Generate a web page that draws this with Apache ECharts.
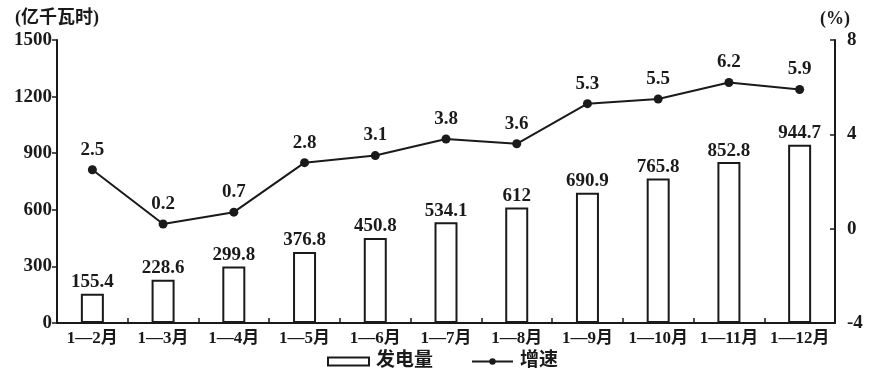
<!DOCTYPE html>
<html><head><meta charset="utf-8">
<script src="https://cdn.jsdelivr.net/npm/echarts@6/dist/echarts.min.js"></script>
<style>html,body{margin:0;padding:0;background:#fff}#c{width:870px;height:379px}</style>
</head><body><div id="c"></div>
<script>
const categories = ['1—2月','1—3月','1—4月','1—5月','1—6月','1—7月','1—8月','1—9月','1—10月','1—11月','1—12月'];
const generation = [155.4,228.6,299.8,376.8,450.8,534.1,612,690.9,765.8,852.8,944.7];
const growth = [2.5,0.2,0.7,2.8,3.1,3.8,3.6,5.3,5.5,6.2,5.9];
const leftTicks = [0,300,600,900,1200,1500];
const rightTicks = [-4,0,4,8];

const FONT = '"Liberation Serif","Noto Sans CJK SC",serif';
const C = '#1a1a1a';
const FS = 19;
const chart = echarts.init(document.getElementById('c'));
chart.setOption({
  animation:false,
  textStyle:{fontFamily:FONT,color:C},
  grid:{left:57,right:35,top:40,bottom:56},
  legend:{
    bottom:3,left:322,itemGap:38,itemWidth:41,itemHeight:8,
    textStyle:{fontFamily:FONT,fontSize:19,fontWeight:'bold',color:C,padding:[0,0,0,2]},
    data:[{name:'发电量',icon:'rect'},{name:'增速'}]
  },
  xAxis:{
    type:'category',data:categories,
    axisLine:{lineStyle:{color:C,width:2}},
    axisTick:{show:true,inside:true,length:5,lineStyle:{color:C,width:1.5}},
    axisLabel:{interval:0,fontFamily:FONT,fontSize:17,fontWeight:'bold',color:C,margin:7}
  },
  yAxis:[
    {type:'value',min:leftTicks[0],max:leftTicks[leftTicks.length-1],interval:300,name:'(亿千瓦时)',
     nameGap:13,nameTextStyle:{fontFamily:FONT,fontSize:18,fontWeight:'bold',color:C,align:'center'},
     axisLine:{show:true,lineStyle:{color:C,width:2}},
     axisTick:{show:true,length:5,lineStyle:{color:C,width:1.5}},
     axisLabel:{fontFamily:FONT,fontSize:FS,fontWeight:'bold',color:C,margin:5,formatter:v=>String(v)},
     splitLine:{show:false}},
    {type:'value',min:rightTicks[0],max:rightTicks[rightTicks.length-1],interval:4,name:'(%)',position:'right',
     nameGap:12,nameTextStyle:{fontFamily:FONT,fontSize:18,fontWeight:'bold',color:C,align:'center'},
     axisLine:{show:true,lineStyle:{color:C,width:2}},
     axisTick:{show:true,inside:true,length:5,lineStyle:{color:C,width:1.5}},
     axisLabel:{fontFamily:FONT,fontSize:FS,fontWeight:'bold',color:C,margin:12,formatter:v=>String(v)},
     splitLine:{show:false}},
  ],
  series:[
    {name:'发电量',type:'bar',data:generation,barWidth:23,yAxisIndex:0,
     itemStyle:{color:'#fff',borderColor:C,borderWidth:2},
     label:{show:true,position:'top',distance:2,fontFamily:FONT,fontSize:FS,fontWeight:'bold',color:C}},
    {name:'增速',type:'line',data:growth,yAxisIndex:1,symbol:'circle',symbolSize:9,
     lineStyle:{color:C,width:2},itemStyle:{color:C},
     label:{show:true,position:'top',distance:6,fontFamily:FONT,fontSize:FS,fontWeight:'bold',color:C}}
  ]
});
</script></body></html>
